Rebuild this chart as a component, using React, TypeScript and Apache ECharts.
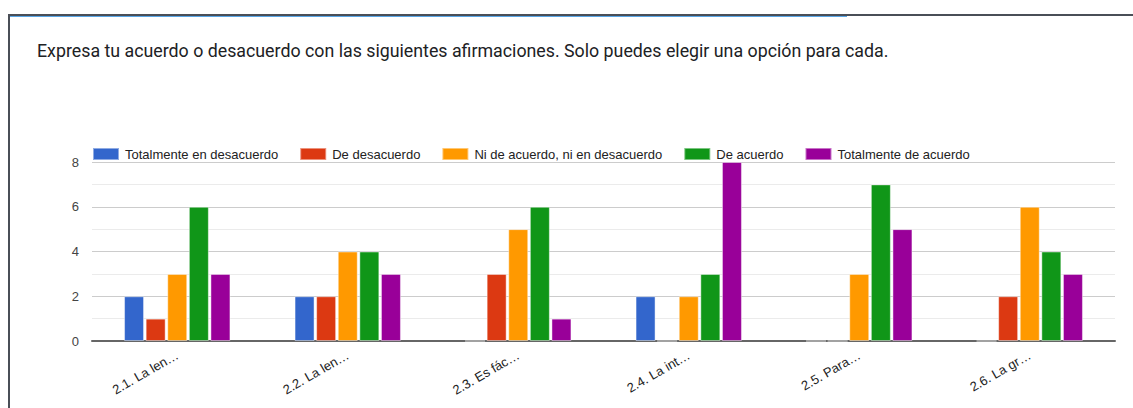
import React, { useEffect, useRef } from "react";
import * as echarts from "echarts";

const categories = ["2.1. La len…", "2.2. La len…", "2.3. Es fác…", "2.4. La int…", "2.5. Para…", "2.6. La gr…"];
const seriesNames = [
  "Totalmente en desacuerdo",
  "De desacuerdo",
  "Ni de acuerdo, ni en desacuerdo",
  "De acuerdo",
  "Totalmente de acuerdo",
];
const totalDesacuerdo = [2, 2, 0, 2, 0, 0];
const desacuerdo = [1, 2, 3, 0, 0, 2];
const neutral = [3, 4, 5, 2, 3, 6];
const acuerdo = [6, 4, 6, 3, 7, 4];
const totalAcuerdo = [3, 3, 1, 8, 5, 3];
const seriesValues = [totalDesacuerdo, desacuerdo, neutral, acuerdo, totalAcuerdo];
const colors = ["#3366cc", "#dc3912", "#ff9900", "#109618", "#990099"];
const yTicks = [0, 2, 4, 6, 8];
const title = "Expresa tu acuerdo o desacuerdo con las siguientes afirmaciones. Solo puedes elegir una opción para cada.";

export default function App() {
  const ref = useRef<HTMLDivElement>(null);
  useEffect(() => {
    if (!ref.current) return;
    const chart = echarts.init(ref.current, null, { renderer: "svg" });
    chart.setOption({
      animation: false,
      color: colors,
      textStyle: { fontFamily: "Liberation Sans, Arial, sans-serif" },
      graphic: [
        { type: "rect", shape: { x: 8, y: 14, width: 1125, height: 2 }, style: { fill: "#4a4f57" } },
        { type: "rect", shape: { x: 10, y: 16, width: 837, height: 1 }, style: { fill: "#5aa6e6" } },
        { type: "rect", shape: { x: 8, y: 14, width: 2, height: 394 }, style: { fill: "#4a4f57" } },
        {
          type: "text",
          x: 37,
          y: 50,
          style: {
            text: title,
            fill: "#202124",
            font: "17.8px Roboto, Arial, sans-serif",
            verticalAlign: "middle",
          },
        },
      ],
      legend: {
        left: 92,
        top: 147,
        padding: 0,
        itemWidth: 26,
        itemHeight: 12,
        itemGap: 21,
        icon: "rect",
        textStyle: { fontSize: 13, color: "#222", padding: [0, 0, 0, 1] },
        data: seriesNames,
      },
      grid: { left: 92, right: 18, top: 162, bottom: 67, containLabel: false },
      xAxis: {
        type: "category",
        data: categories,
        axisTick: { show: false },
        axisLine: { lineStyle: { color: "#666", width: 2 } },
        axisLabel: { rotate: 30, fontSize: 13, color: "#222", margin: 13, interval: 0 },
      },
      yAxis: {
        type: "value",
        min: yTicks[0],
        max: yTicks[yTicks.length - 1],
        interval: 2,
        axisLine: { show: false },
        axisTick: { show: false },
        axisLabel: { fontSize: 13, color: "#444", margin: 13 },
        splitLine: { lineStyle: { color: "#cccccc" } },
        minorTick: { show: false, splitNumber: 2 },
        minorSplitLine: { show: true, lineStyle: { color: "#ebebeb" } },
      },
      series: seriesNames.map((name, i) => ({
        name,
        type: "bar",
        data: seriesValues[i],
        barWidth: 20,
        barGap: "8%",
        itemStyle: { color: colors[i], borderColor: "rgba(255,255,255,0.45)", borderWidth: 1 },
      })),
    });
    return () => chart.dispose();
  }, []);
  return (
    <div
      ref={ref}
      style={{ position: "absolute", left: 0, top: 0, width: 1133, height: 408, background: "#fff" }}
    />
  );
}
